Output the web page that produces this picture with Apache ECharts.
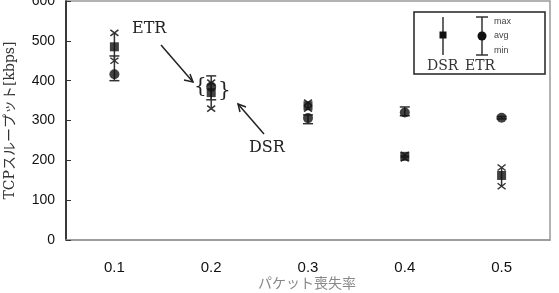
<!DOCTYPE html>
<html>
<head>
<meta charset="utf-8">
<script src="https://cdn.jsdelivr.net/npm/echarts@6/dist/echarts.min.js"></script>
<style>html,body{margin:0;padding:0;background:#fff}#main{width:559px;height:293px}</style>
</head>
<body>
<div id="main"></div>
<script>
// パケット喪失率ごとのスループット
var lossRates = ['0.1', '0.2', '0.3', '0.4', '0.5'];
var dsrAvg = [485, 370, 337, 210, 162];
var dsrMax = [520, 395, 345, 214, 182];
var dsrMin = [450, 330, 330, 205, 135];
var etrAvg = [416, 385, 306, 320, 307];
var etrMax = [462, 412, 314, 334, 310];
var etrMin = [400, 352, 292, 312, 304];
var yTicks = [0, 100, 200, 300, 400, 500, 600];

var serif = '"DejaVu Serif", "Liberation Serif", "Noto Sans CJK JP", serif';

var myChart = echarts.init(document.getElementById('main'));

function errBar(maxArr, minArr, capType) {
    return function (params, api) {
        var i = api.value(0);
        var top = api.coord([i, maxArr[i]]);
        var bot = api.coord([i, minArr[i]]);
        var x = top[0];
        var st = { stroke: '#333', lineWidth: 1.5 };
        var kids = [{ type: 'line', shape: { x1: x, y1: top[1], x2: x, y2: bot[1] }, style: st }];
        [top[1], bot[1]].forEach(function (y) {
            if (capType === 'cap') {
                kids.push({ type: 'line', shape: { x1: x - 5, y1: y, x2: x + 5, y2: y }, style: st });
            } else {
                kids.push({ type: 'line', shape: { x1: x - 4, y1: y - 3, x2: x + 4, y2: y + 3 }, style: st });
                kids.push({ type: 'line', shape: { x1: x - 4, y1: y + 3, x2: x + 4, y2: y - 3 }, style: st });
            }
        });
        return { type: 'group', children: kids };
    };
}

var option = {
    animation: false,
    grid: {
        left: 66, right: 9, top: 1, bottom: 53,
        outerBoundsMode: 'none', containLabel: false,
        show: true, borderColor: '#999', borderWidth: 1.5
    },
    xAxis: {
        type: 'category',
        data: lossRates,
        axisLine: { lineStyle: { color: '#999', width: 1.5 } },
        axisTick: { inside: true, alignWithLabel: true, length: 6, lineStyle: { color: '#333', width: 1.5 } },
        axisLabel: { color: '#111', fontFamily: 'Liberation Sans', fontSize: 15, margin: 20 },
        splitLine: { show: false }
    },
    yAxis: {
        type: 'value',
        min: yTicks[0],
        max: yTicks[yTicks.length - 1],
        interval: 100,
        name: 'TCPスループット[kbps]',
        nameLocation: 'middle',
        nameGap: 49,
        nameTextStyle: { fontFamily: serif, fontSize: 14, color: '#333' },
        axisLine: { show: true, lineStyle: { color: '#111', width: 1.5 } },
        axisTick: { show: true, inside: true, length: 5, lineStyle: { color: '#333' } },
        axisLabel: { color: '#111', fontFamily: 'Liberation Sans', fontSize: 14, margin: 11 },
        splitLine: { show: false }
    },
    series: [{
        name: 'ETR',
        type: 'custom',
        renderItem: errBar(etrMax, etrMin, 'cap'),
        data: lossRates.map(function (c, i) { return [i, etrAvg[i]]; }),
        z: 2
    }, {
        name: 'DSR',
        type: 'custom',
        renderItem: errBar(dsrMax, dsrMin, 'cross'),
        data: lossRates.map(function (c, i) { return [i, dsrAvg[i]]; }),
        z: 2
    }, {
        name: 'ETR avg',
        type: 'scatter',
        symbol: 'circle',
        symbolSize: 10,
        itemStyle: { color: '#111' },
        data: lossRates.map(function (c, i) { return [i, etrAvg[i]]; }),
        z: 3
    }, {
        name: 'DSR avg',
        type: 'scatter',
        symbol: 'rect',
        symbolSize: 9,
        itemStyle: { color: '#111' },
        data: lossRates.map(function (c, i) { return [i, dsrAvg[i]]; }),
        z: 3
    }],
    graphic: [
        // x軸タイトル
        { type: 'text', left: 258, top: 276, style: { text: 'パケット喪失率', font: '14px "Noto Sans CJK JP"', fill: '#888' } },
        // 注釈
        { type: 'text', left: 132, top: 21, style: { text: 'ETR', font: '16px ' + serif, fill: '#222' } },
        { type: 'line', shape: { x1: 161, y1: 45, x2: 193, y2: 82 }, style: { stroke: '#222', lineWidth: 1.5 } },
        { type: 'polyline', shape: { points: [[184, 80], [193, 82], [190, 74]] }, style: { stroke: '#222', lineWidth: 1.5, fill: null } },
        { type: 'text', left: 194, top: 77, style: { text: '{', font: '20px ' + serif, fill: '#222' } },
        { type: 'text', left: 218, top: 81, style: { text: '}', font: '20px ' + serif, fill: '#222' } },
        { type: 'text', left: 249, top: 140, style: { text: 'DSR', font: '16px ' + serif, fill: '#222' } },
        { type: 'line', shape: { x1: 264, y1: 134, x2: 238, y2: 104 }, style: { stroke: '#222', lineWidth: 1.5 } },
        { type: 'polyline', shape: { points: [[240, 112], [238, 104], [246, 107]] }, style: { stroke: '#222', lineWidth: 1.5, fill: null } },
        // 凡例
        { type: 'rect', shape: { x: 414, y: 12, width: 131, height: 62 }, style: { stroke: '#222', lineWidth: 1.5, fill: '#fff' }, z: 10 },
        { type: 'line', shape: { x1: 443, y1: 17, x2: 443, y2: 55 }, style: { stroke: '#333', lineWidth: 1.5 }, z: 11 },
        { type: 'rect', shape: { x: 439.5, y: 31.5, width: 7, height: 7 }, style: { fill: '#111' }, z: 11 },
        { type: 'line', shape: { x1: 482, y1: 17, x2: 482, y2: 55 }, style: { stroke: '#333', lineWidth: 1.5 }, z: 11 },
        { type: 'line', shape: { x1: 476, y1: 17, x2: 488, y2: 17 }, style: { stroke: '#333', lineWidth: 1.5 }, z: 11 },
        { type: 'line', shape: { x1: 476, y1: 55, x2: 488, y2: 55 }, style: { stroke: '#333', lineWidth: 1.5 }, z: 11 },
        { type: 'circle', shape: { cx: 482, cy: 36, r: 4.5 }, style: { fill: '#111' }, z: 11 },
        { type: 'text', left: 494, top: 17, style: { text: 'max', font: '9px "Liberation Sans"', fill: '#444' }, z: 11 },
        { type: 'text', left: 494, top: 31, style: { text: 'avg', font: '9px "Liberation Sans"', fill: '#444' }, z: 11 },
        { type: 'text', left: 494, top: 46, style: { text: 'min', font: '9px "Liberation Sans"', fill: '#444' }, z: 11 },
        { type: 'text', left: 427, top: 59, style: { text: 'DSR', font: '14px ' + serif, fill: '#333' }, z: 11 },
        { type: 'text', left: 465, top: 59, style: { text: 'ETR', font: '14px ' + serif, fill: '#333' }, z: 11 }
    ]
};

myChart.setOption(option);
</script>
</body>
</html>
